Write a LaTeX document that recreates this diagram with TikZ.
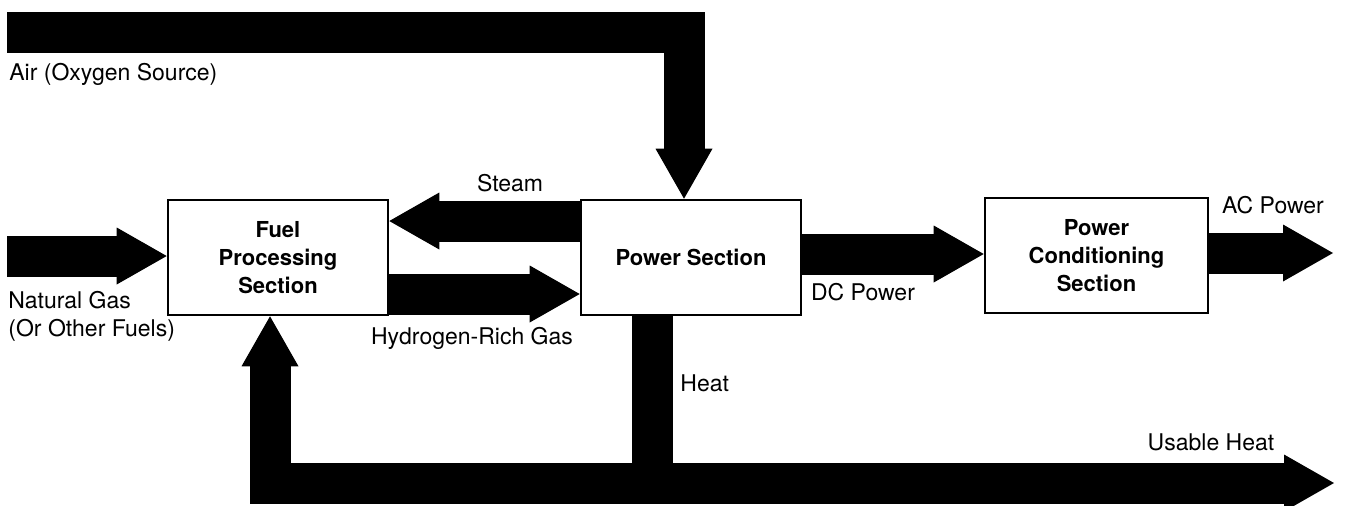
\documentclass[tikz,border=0pt]{standalone}
\usepackage{fontspec}
\setmainfont{TeX Gyre Heros}
\usetikzlibrary{arrows.meta}

\begin{document}
\begin{tikzpicture}[x=0.5pt,y=-0.5pt,
    box/.style={draw,line width=1.3pt,minimum width=110pt,minimum height=57.5pt,
        inner sep=0pt,align=center,font=\bfseries\fontsize{11}{14}\selectfont},
    flow/.style={line width=20.5pt,-{Triangle[length=25pt,width=28.5pt,line width=0pt]}},
    band/.style={line width=20.5pt},
    lbl/.style={inner sep=0pt,align=left,font=\fontsize{11.5}{14}\selectfont}]

    \useasboundingbox (0,0) rectangle (1348,505);

    \node[box] (fuel) at (278,257.5) {Fuel\\Processing\\Section};

    \node[box] (power) at (691,257.5) {Power Section};

    \node[box,minimum width=111.5pt] (cond) at (1096.5,255.5) {Power\\Conditioning\\Section};

    \coordinate (air) at (7,32.5);
    \coordinate (gas) at (7,256);
    \coordinate (ac) at (1333,253);
    \coordinate (join) at (652.5,483);
    \coordinate (usable) at (1334,483);

    \draw[flow] (air) -| ([xshift=-3.5pt]power.north);

    \draw[flow] (gas) -- (gas -| fuel.west);

    \draw[flow] ([yshift=18.25pt]power.west) -- ([yshift=18.25pt]fuel.east);

    \draw[flow] ([yshift=-18.25pt]fuel.east) -- ([yshift=-18.25pt]power.west);

    \draw[flow] ([yshift=1.75pt]power.east) -- ([yshift=1.75pt]power.east -| cond.west);

    \draw[flow] (cond.east |- ac) -- (ac);

    \draw[band] ([xshift=-19.25pt]power.south) -- (join);

    \draw[flow] (join) -| ([xshift=-4pt]fuel.south);

    \draw[flow] (join) -- (usable);

    \node[lbl,anchor=west] (airlbl) at (9,74) {Air (Oxygen Source)};

    \node[lbl] (steamlbl) at (510,183) {Steam};

    \node[lbl,anchor=west] (gaslbl) at (8,316) {Natural Gas\\(Or Other Fuels)};

    \node[lbl] (h2lbl) at (472,338) {Hydrogen-Rich Gas};

    \node[lbl] (dclbl) at (863,292) {DC Power};

    \node[lbl] (aclbl) at (1273,205) {AC Power};

    \node[lbl,anchor=west] (heatlbl) at (680,383) {Heat};

    \node[lbl] (usablelbl) at (1211,442) {Usable Heat};
\end{tikzpicture}
\end{document}
